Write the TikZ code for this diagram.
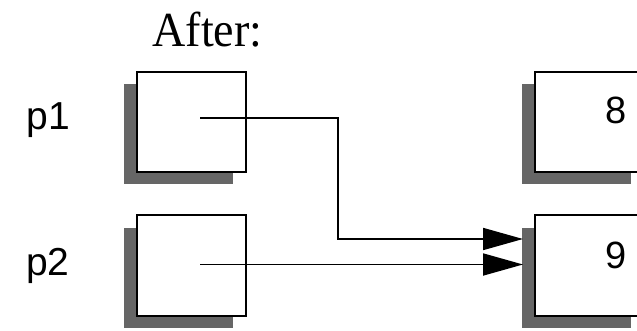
\documentclass[tikz,border=0pt]{standalone}
\usepackage{fontspec}
\setmainfont{Liberation Serif}
\newfontfamily\labfont{Liberation Sans}
\usetikzlibrary{arrows.meta,shadows}
\definecolor{shadowgray}{RGB}{102,102,102}
\tikzset{
  cell/.style={draw=black, fill=white, line width=2pt, minimum width=109pt, minimum height=100pt, inner sep=0pt,
    drop shadow={shadow xshift=-13.5pt, shadow yshift=-12.5pt, fill=shadowgray, opacity=1}},
  varlab/.style={font=\labfont\fontsize{39}{39}\selectfont, anchor=base, inner sep=0pt},
  vallab/.style={font=\labfont\fontsize{38}{38}\selectfont, anchor=base, inner sep=0pt},
  title/.style={font=\fontsize{49}{49}\selectfont, anchor=base, inner sep=0pt},
  conn/.style={line width=1.8pt, -{Triangle[length=40pt,width=22pt]}}
}
\begin{document}
\begin{tikzpicture}[x=1pt,y=-1pt]
\useasboundingbox (0,0) rectangle (637,331);
\clip (0,0) rectangle (637,331);
\fill[white] (0,0) rectangle (637,331);
\node[title] (after) at (207.5,47) {\scalebox{0.94}[1]{After:}};
\node[varlab] (lp1) at (48.5,130) {p1};
\node[varlab] (lp2) at (48,275) {p2};
\node[cell] (b1) at (191.5,122) {};
\node[cell] (b2) at (191.5,265.5) {};
\node[cell] (b8) at (589.5,122) {};
\node[cell] (b9) at (589.5,265.5) {};
\node[vallab] (v8) at (616.5,124) {8};
\node[vallab] (v9) at (616.5,268.5) {9};
\coordinate (s1) at (200,118);
\coordinate (s2) at (200,264.5);
\coordinate (t1) at (523,239);
\coordinate (t2) at (523,264.5);
\draw[conn] (s1) -- (338,118) |- (t1);
\draw[conn] (s2) -- (t2);
\end{tikzpicture}
\end{document}
